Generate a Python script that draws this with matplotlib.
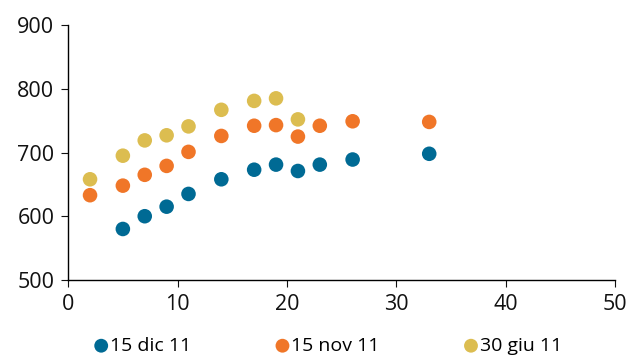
import numpy as np
import matplotlib
matplotlib.use("Agg")
import matplotlib.pyplot as plt

plt.rcParams['font.family'] = ['Open Sans', 'DejaVu Sans']

# maturities (years) and yields for each date
x_dic = [5, 7, 9, 11, 14, 17, 19, 21, 23, 26, 33]
y_dic = [580, 600, 615, 635, 658, 673, 681, 671, 681, 689, 698]

x_nov = [2, 5, 7, 9, 11, 14, 17, 19, 21, 23, 26, 33]
y_nov = [633, 648, 665, 679, 701, 726, 742, 743, 725, 742, 749, 748]

x_giu = [2, 5, 7, 9, 11, 14, 17, 19, 21]
y_giu = [658, 695, 719, 727, 741, 767, 781, 785, 752]

labels = ['15 dic 11', '15 nov 11', '30 giu 11']
colors = ['#006a94', '#f07628', '#dcbd50']

fig = plt.figure(figsize=(6.31, 3.58), dpi=100)
ax = fig.add_axes([0.108, 0.218, 0.867, 0.712])

for xs, ys, lab, c in zip([x_dic, x_nov, x_giu], [y_dic, y_nov, y_giu], labels, colors):
    ax.scatter(xs, ys, s=110, color=c, edgecolors='none', label=lab, zorder=3)

ax.set_xlim(0, 50)
ax.set_ylim(500, 900)
ax.set_xticks(np.arange(0, 51, 10))
ax.set_yticks(np.arange(500, 901, 100))
ax.spines['top'].set_visible(False)
ax.spines['right'].set_visible(False)
ax.spines['left'].set_linewidth(1.0)
ax.spines['bottom'].set_linewidth(1.0)
ax.tick_params(axis='both', labelsize=15.5, colors='#111111', length=5, width=0.8,
               labelcolor='#111111', pad=5)

fig.legend(loc='lower center', ncol=3, frameon=False, fontsize=14,
           bbox_to_anchor=(0.51, -0.04), handletextpad=-0.55, columnspacing=3.7,
           markerscale=0.95, scatterpoints=1)

fig.savefig('out.png', dpi=100)
